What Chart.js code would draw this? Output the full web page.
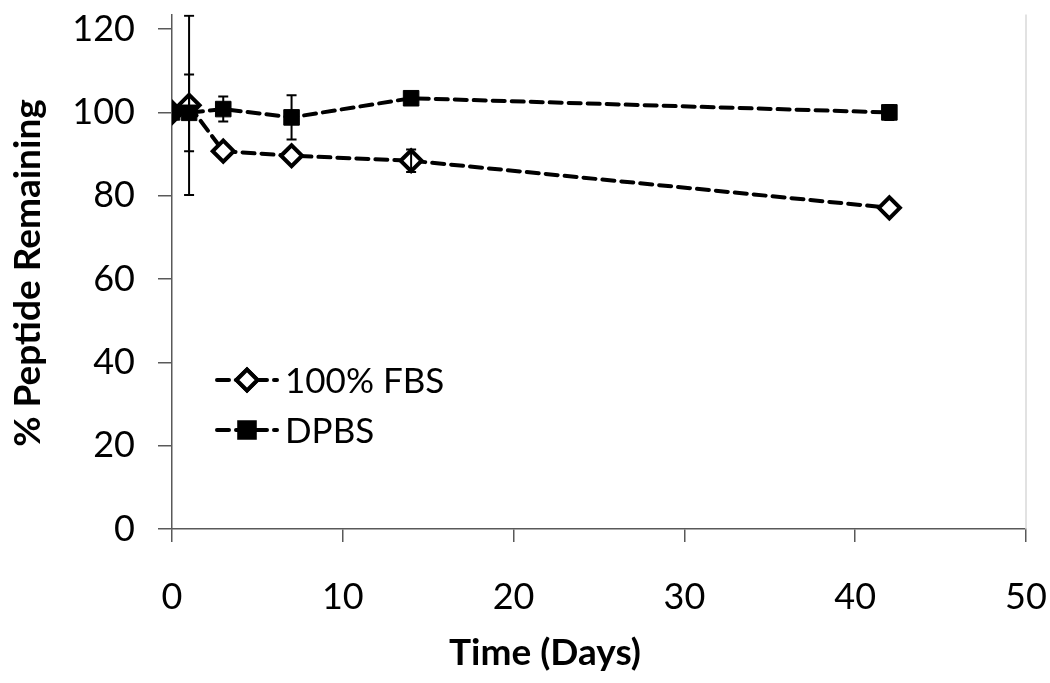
<!DOCTYPE html>
<html>
<head>
<meta charset="utf-8">
<script src="https://cdn.jsdelivr.net/npm/chart.js@4/dist/chart.umd.min.js"></script>
<style>
  html, body { margin: 0; padding: 0; background: #fff; }
  #wrap { width: 1050px; height: 683px; }
</style>
</head>
<body>
<div id="wrap"><canvas id="peptideChart" width="1050" height="683"></canvas></div>
<script>
/* ======================================================================
DATA
====================================================================== */
const days = [0, 1, 3, 7, 14, 42];
const fbsValues = [100, 101.7, 90.7, 89.6, 88.4, 77.1];
const fbsErrors = [0, 21.5, 0, 0, 2.7, 0];
const dpbsValues = [100, 99.9, 100.8, 98.8, 103.4, 100];
const dpbsErrors = [0, 9.2, 3, 5.3, 0, 1.8];
const xTicks = [0, 10, 20, 30, 40, 50];
const yTicks = [0, 20, 40, 60, 80, 100, 120];
const seriesNames = ['100% FBS', 'DPBS'];
const xTitle = 'Time (Days)';
const yTitle = '% Peptide Remaining';

/* ======================================================================
Helpers
====================================================================== */
const axisColor = '#595959';
const tickFont = { family: 'Lato', size: 36 };

function toPoints(xs, ys) {
  return xs.map((x, i) => ({ x: x, y: ys[i] }));
}

// no extra room for overhanging tick labels, the plot box is fixed
function noScalePadding(scale) {
  scale.paddingTop = 0;
  scale.paddingBottom = 0;
  scale.paddingLeft = 0;
  scale.paddingRight = 0;
}

// error bars drawn from the same arrays through the chart scales
const errorBarPlugin = {
  id: 'errorBars',
  afterDatasetsDraw(chart) {
    const ctx = chart.ctx;
    const xScale = chart.scales.x;
    const yScale = chart.scales.y;
    const area = chart.chartArea;
    const sets = [[fbsValues, fbsErrors], [dpbsValues, dpbsErrors]];
    ctx.save();
    ctx.beginPath();
    ctx.rect(area.left - 10, area.top, area.right - area.left + 20, area.bottom - area.top);
    ctx.clip();
    ctx.strokeStyle = '#000';
    ctx.lineWidth = 2;
    sets.forEach(([vals, errs]) => {
      days.forEach((d, i) => {
        if (!errs[i]) return;
        const px = xScale.getPixelForValue(d);
        const top = yScale.getPixelForValue(vals[i] + errs[i]);
        const bot = yScale.getPixelForValue(vals[i] - errs[i]);
        ctx.beginPath();
        ctx.moveTo(px, top); ctx.lineTo(px, bot);
        ctx.moveTo(px - 5, top); ctx.lineTo(px + 5, top);
        ctx.moveTo(px - 5, bot); ctx.lineTo(px + 5, bot);
        ctx.stroke();
      });
    });
    ctx.restore();
  }
};

// legend inside the plot, axis titles and the light plot border
const decorPlugin = {
  id: 'decor',
  afterDraw(chart) {
    const ctx = chart.ctx;
    const area = chart.chartArea;
    ctx.save();

    // right border of plot area
    ctx.strokeStyle = '#d9d9d9';
    ctx.lineWidth = 1.5;
    ctx.beginPath();
    ctx.moveTo(area.right, area.top);
    ctx.lineTo(area.right, area.bottom);
    ctx.stroke();

    // legend
    const rows = [380, 430];
    chart.data.datasets.forEach((ds, i) => {
      const y = rows[i];
      ctx.strokeStyle = '#000';
      ctx.lineWidth = ds.borderWidth;
      ctx.lineCap = 'round';
      ctx.setLineDash(ds.borderDash);
      ctx.beginPath();
      ctx.moveTo(217, y);
      ctx.lineTo(277, y);
      ctx.stroke();
      ctx.setLineDash([]);
      ctx.lineCap = 'butt';
      Chart.helpers.drawPoint(ctx, {
        pointStyle: ds.pointStyle,
        radius: ds.pointRadius,
        borderWidth: ds.pointBorderWidth
      }, 247, y);
      ctx.fillStyle = ds.pointBackgroundColor;
      ctx.strokeStyle = '#000';
      ctx.lineWidth = ds.pointBorderWidth;
      ctx.fill();
      ctx.stroke();
      ctx.fillStyle = '#000';
      ctx.font = '35px Lato';
      ctx.textAlign = 'left';
      ctx.textBaseline = 'middle';
      ctx.fillText(ds.label, 285, y + 2);
    });

    // axis titles
    ctx.fillStyle = '#000';
    ctx.font = 'bold 37px Lato';
    ctx.textAlign = 'center';
    ctx.textBaseline = 'middle';
    ctx.fillText(xTitle, 545, 653);
    ctx.translate(28, 273);
    ctx.rotate(-Math.PI / 2);
    ctx.fillText(yTitle, 0, 0);
    ctx.restore();
  }
};

/* ======================================================================
Chart
====================================================================== */
const peptideCanvas = document.getElementById('peptideChart');

let peptideData = {
  datasets: [{
    label: seriesNames[0],
    data: toPoints(days, fbsValues),
    borderColor: '#000',
    borderWidth: 4,
    borderDash: [12, 7],
    borderCapStyle: 'round',
    pointStyle: 'rectRot',
    pointRadius: 10.5,
    pointBackgroundColor: '#fff',
    pointBorderColor: '#000',
    pointBorderWidth: 4,
    tension: 0,
    order: 2
  }, {
    label: seriesNames[1],
    data: toPoints(days, dpbsValues),
    borderColor: '#000',
    borderWidth: 4,
    borderDash: [12, 7],
    borderCapStyle: 'round',
    pointStyle: 'rect',
    pointRadius: 11,
    pointBackgroundColor: '#000',
    pointBorderColor: '#000',
    pointBorderWidth: 1,
    tension: 0,
    order: 1
  }]
};

let peptideOptions = {
  responsive: false,
  animation: false,
  layout: { padding: { top: 11, right: 24, left: 0, bottom: 0 } },
  plugins: {
    legend: { display: false },
    tooltip: { enabled: false }
  },
  scales: {
    x: {
      type: 'linear',
      min: 0,
      max: 50,
      afterBuildTicks(scale) {
        scale.ticks = xTicks.map(v => ({ value: v }));
      },
      afterFit(scale) {
        scale.height = 154;
        noScalePadding(scale);
      },
      grid: { drawOnChartArea: false, drawTicks: true, tickLength: 13, color: axisColor, lineWidth: 1.5 },
      border: { display: true, color: axisColor, width: 1.5 },
      ticks: { color: '#000', font: tickFont, padding: 34, maxRotation: 0 }
    },
    y: {
      type: 'linear',
      min: 0,
      max: 123.5,
      afterBuildTicks(scale) {
        scale.ticks = yTicks.map(v => ({ value: v }));
      },
      afterFit(scale) {
        scale.width = 172;
        noScalePadding(scale);
      },
      grid: { drawOnChartArea: false, drawTicks: true, tickLength: 14, color: axisColor, lineWidth: 1.5 },
      border: { display: true, color: axisColor, width: 1.5 },
      ticks: { color: '#000', font: tickFont, padding: 23 }
    }
  }
};

let peptideChart = new Chart(peptideCanvas, {
  type: 'line',
  data: peptideData,
  options: peptideOptions,
  plugins: [errorBarPlugin, decorPlugin]
});
</script>
</body>
</html>
